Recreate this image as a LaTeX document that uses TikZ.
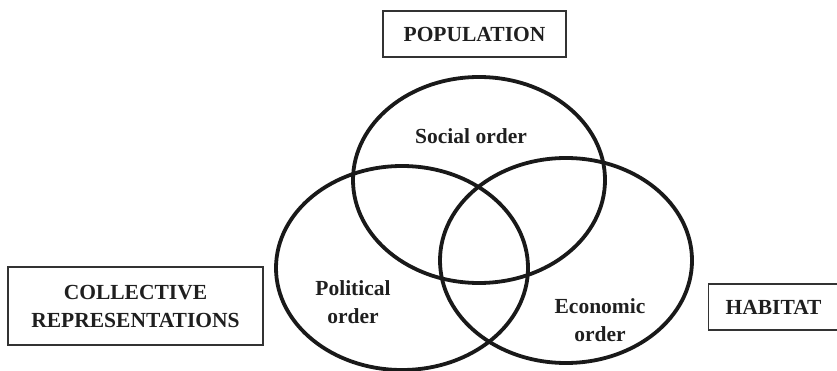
\documentclass[tikz,border=0pt]{standalone}
\usepackage{fontspec}
\setmainfont{Liberation Serif}
\begin{document}
\begin{tikzpicture}[x=1pt,y=-1pt,
  ring/.style={draw=black!90, line width=3.8pt},
  label/.style={font=\bfseries\fontsize{21.5}{28}\selectfont, text=black!88, align=center, inner sep=0pt},
  framed/.style={draw=black!80, line width=1.2pt, font=\bfseries\fontsize{21.5}{28}\selectfont, text=black!88, align=center, inner sep=0pt}
]
\useasboundingbox (0,0) rectangle (837,371);

% three overlapping orders
\draw[ring] (479,180) ellipse [x radius=126, y radius=103];
\draw[ring] (402,268) ellipse [x radius=126, y radius=102];
\draw[ring] (566,260.5) ellipse [x radius=126, y radius=102.5];

\node[label] (social) at (471,136) {Social order};
\node[label] (political) at (353,302) {Political\\order};
\node[label] (economic) at (600,320) {Economic\\order};

% surrounding frame labels
\node[framed, minimum width=183, minimum height=46] (population) at (474.5,34) {POPULATION};
\node[framed, minimum width=255, minimum height=78] (collective) at (135.5,306) {COLLECTIVE\\REPRESENTATIONS};
\node[framed, minimum height=46, anchor=west] (habitat) at (708,307) {\hspace*{17pt}HABITAT\hspace*{20pt}};
\end{tikzpicture}
\end{document}
